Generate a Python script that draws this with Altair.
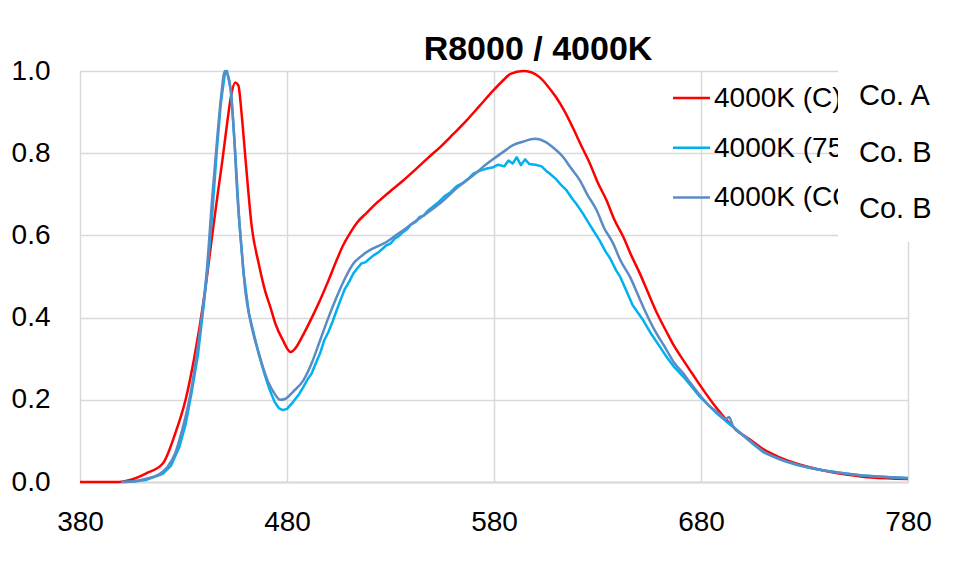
import altair as alt
import pandas as pd

FONT = "Liberation Sans"

# ---- data ----
red_nm = [380, 399, 405, 412, 420, 426, 431, 435, 440, 444, 446.5, 448.8, 451, 453, 455, 456.5,
          458, 460, 463, 466.4, 469.6, 472, 474.4, 478, 481.8, 484, 488, 492, 496, 500, 504, 507,
          510.4, 514, 518.5, 524, 530, 536, 542, 548, 554, 560, 566.8, 573, 579.7, 584, 588, 594,
          598, 602, 606, 610, 614, 618, 622, 626.4, 630, 634.4, 638, 642.5, 646, 650.5, 655.4,
          659, 663.4, 667, 671.5, 676, 680, 686, 690, 694, 698, 704, 710, 718, 726, 734, 742,
          750, 758, 770, 780]
red_val = [0, 0, 0.006, 0.021, 0.045, 0.118, 0.2, 0.297, 0.45, 0.605, 0.70, 0.783, 0.87, 0.94,
           0.972, 0.965, 0.90, 0.783, 0.62, 0.53, 0.462, 0.425, 0.385, 0.345, 0.316, 0.325, 0.36,
           0.40, 0.443, 0.49, 0.54, 0.575, 0.605, 0.632, 0.655, 0.682, 0.708, 0.733, 0.76, 0.788,
           0.815, 0.845, 0.88, 0.915, 0.953, 0.975, 0.993, 1.0, 0.997, 0.985, 0.963, 0.936, 0.903,
           0.863, 0.82, 0.774, 0.73, 0.685, 0.64, 0.596, 0.555, 0.507, 0.449, 0.408, 0.365, 0.331,
           0.296, 0.262, 0.232, 0.19, 0.165, 0.142, 0.123, 0.102, 0.08, 0.06, 0.045, 0.034, 0.025,
           0.018, 0.013, 0.009, 0.007]

lb_nm = [400, 406, 412, 420, 424, 428, 431, 434, 437, 440, 442, 444, 446, 448, 450, 451, 453,
         455, 457, 459, 461.6, 464, 466.4, 469, 471.2, 474, 476, 478, 480, 483, 486, 488, 490,
         492, 494, 496, 498, 500, 502, 504, 506, 508, 510, 512, 514, 516, 518, 520, 522, 524,
         526, 528, 530, 532, 534, 536, 538, 540, 542, 544, 546, 548, 550, 553, 556, 559, 562,
         565, 568, 570, 573, 576, 579.7, 582, 585, 587, 589, 591, 593, 595, 597, 600, 603, 605,
         607, 610, 612, 615, 618, 620, 623, 626, 628, 631, 634, 636, 639, 641, 644, 647, 652,
         656, 660, 663.4, 667, 671.5, 675, 679.5, 684, 687.6, 692, 695.6, 700, 705, 710, 718,
         726, 734, 742, 750, 758, 770, 780]
lb_val = [0, 0.001, 0.005, 0.02, 0.04, 0.085, 0.14, 0.22, 0.31, 0.44, 0.54, 0.66, 0.80, 0.92,
          0.995, 1.0, 0.95, 0.80, 0.63, 0.51, 0.41, 0.36, 0.31, 0.265, 0.23, 0.195, 0.18, 0.175,
          0.178, 0.195, 0.215, 0.232, 0.25, 0.265, 0.29, 0.313, 0.345, 0.365, 0.39, 0.418, 0.445,
          0.47, 0.487, 0.507, 0.52, 0.532, 0.535, 0.544, 0.552, 0.558, 0.567, 0.576, 0.58, 0.592,
          0.598, 0.608, 0.615, 0.627, 0.632, 0.645, 0.648, 0.66, 0.668, 0.68, 0.695, 0.705, 0.72,
          0.728, 0.74, 0.75, 0.757, 0.762, 0.766, 0.772, 0.768, 0.782, 0.775, 0.79, 0.771, 0.785,
          0.774, 0.772, 0.768, 0.758, 0.75, 0.737, 0.725, 0.71, 0.688, 0.675, 0.653, 0.628,
          0.612, 0.588, 0.56, 0.545, 0.515, 0.499, 0.465, 0.43, 0.394, 0.36, 0.33, 0.304, 0.28,
          0.256, 0.235, 0.207, 0.185, 0.167, 0.148, 0.134, 0.115, 0.093, 0.073, 0.055, 0.042,
          0.033, 0.026, 0.021, 0.016, 0.012, 0.01]

sb_nm = [400, 406, 412, 418, 422, 426, 429, 432.8, 436, 439, 441, 444, 446, 448, 450, 452, 454,
         456, 458, 460, 462, 464, 466.4, 469, 471.2, 474, 476.6, 479, 483, 488, 492, 496, 500,
         504, 508, 512, 516, 520, 524, 528, 532, 536, 540, 544, 550, 555.5, 562, 570, 575, 580,
         585, 589, 594, 599.8, 605, 609, 613.5, 617, 621.5, 625, 629.6, 633, 637.6, 641, 645.7,
         650, 652.1, 657, 663.4, 667, 671.5, 675, 679.5, 684, 687.6, 690, 692, 693.5, 695.6,
         700, 705, 710, 718, 726, 734, 742, 750, 758, 770, 780]
sb_val = [0, 0.002, 0.008, 0.018, 0.035, 0.07, 0.12, 0.2, 0.297, 0.41, 0.50, 0.70, 0.82, 0.93,
          1.0, 0.98, 0.88, 0.70, 0.57, 0.459, 0.40, 0.355, 0.313, 0.27, 0.24, 0.215, 0.2, 0.202,
          0.22, 0.248, 0.29, 0.345, 0.40, 0.45, 0.495, 0.531, 0.55, 0.564, 0.574, 0.584, 0.598,
          0.612, 0.627, 0.641, 0.663, 0.685, 0.715, 0.746, 0.768, 0.787, 0.805, 0.819, 0.828,
          0.835, 0.827, 0.812, 0.79, 0.765, 0.734, 0.70, 0.661, 0.62, 0.58, 0.54, 0.499, 0.45,
          0.426, 0.375, 0.321, 0.29, 0.264, 0.24, 0.211, 0.185, 0.171, 0.16, 0.153, 0.158, 0.134,
          0.115, 0.095, 0.075, 0.056, 0.043, 0.033, 0.026, 0.02, 0.016, 0.012, 0.009]

series_names = ["4000K (C)", "4000K (75%)", "4000K (CCT)"]
series_colors = ["#FF0000", "#00B0F0", "#5B8BC4"]
company_labels = ["Co. A", "Co. B", "Co. B"]
x_ticks = [380, 480, 580, 680, 780]
y_ticks = [0.0, 0.2, 0.4, 0.6, 0.8, 1.0]
chart_title = "R8000 / 4000K"

GRID = "#d9d9d9"

x_enc = alt.X("nm:Q", scale=alt.Scale(domain=[380, 780], nice=False, zero=False),
              axis=alt.Axis(values=x_ticks, title=None, grid=True, gridColor=GRID, gridWidth=1.5,
                            domainColor=GRID, domainWidth=2, ticks=False, labelFontSize=28,
                            labelFont=FONT, labelColor="#000000", labelPadding=26,
                            labelFlush=False, format="d"))
y_enc = alt.Y("val:Q", scale=alt.Scale(domain=[0, 1], nice=False),
              axis=alt.Axis(values=y_ticks, title=None, grid=True, gridColor=GRID, gridWidth=1.5,
                            domain=False, ticks=False, labelFontSize=28, labelFont=FONT,
                            labelColor="#000000", labelPadding=30, format=".1f"))

layers = []
for name, color, xs, ys in zip(series_names, series_colors,
                               [red_nm, lb_nm, sb_nm], [red_val, lb_val, sb_val]):
    d = pd.DataFrame({"nm": xs, "val": ys, "series": name})
    interp = "linear" if name == series_names[1] else "monotone"
    layers.append(
        alt.Chart(d).mark_line(color=color, strokeWidth=2.5, strokeJoin="round",
                               interpolate=interp)
        .encode(x=x_enc, y=y_enc, order="nm:Q")
    )

legend_df = pd.DataFrame({"label": series_names, "color": series_colors,
                          "co": company_labels, "i": list(range(len(series_names)))})

legend_rules = alt.Chart(legend_df).mark_rule(strokeWidth=2.5).transform_calculate(
    ly="27 + 49.7 * datum.i"
).encode(x=alt.value(593), x2=alt.value(630), y=alt.Y("ly:Q", scale=None),
         color=alt.Color("color:N", scale=None))

legend_text = alt.Chart(legend_df).mark_text(
    align="left", baseline="middle", font=FONT, fontSize=28, color="#000000",
    limit=140, ellipsis="\u200b"
).transform_calculate(
    ly="28 + 49.7 * datum.i"
).encode(x=alt.value(634), y=alt.Y("ly:Q", scale=None), text="label:N")

white_box = alt.Chart(pd.DataFrame({"k": [0]})).mark_rect(color="white").encode(
    x=alt.value(758), x2=alt.value(900), y=alt.value(-15), y2=alt.value(171)
)

co_text = alt.Chart(legend_df).mark_text(
    align="left", baseline="middle", font=FONT, fontSize=29, color="#000000"
).transform_calculate(
    ly="25 + 56.5 * datum.i"
).encode(x=alt.value(779), y=alt.Y("ly:Q", scale=None), text="co:N")

title_mark = alt.Chart(pd.DataFrame({"t": [chart_title]})).mark_text(
    align="center", baseline="alphabetic", font=FONT, fontSize=34, fontWeight="bold",
    color="#000000"
).encode(x=alt.value(458), y=alt.value(-11), text="t:N")

chart = alt.layer(*layers, legend_rules, legend_text, white_box, co_text, title_mark).properties(
    width=828, height=411,
    autosize=alt.AutoSizeParams(type="none"),
    padding={"left": 72, "top": 63, "right": 45, "bottom": 80},
    background="white",
).configure_view(stroke=None)

chart.save("out.html", embed_options={"renderer": "svg", "actions": False})
